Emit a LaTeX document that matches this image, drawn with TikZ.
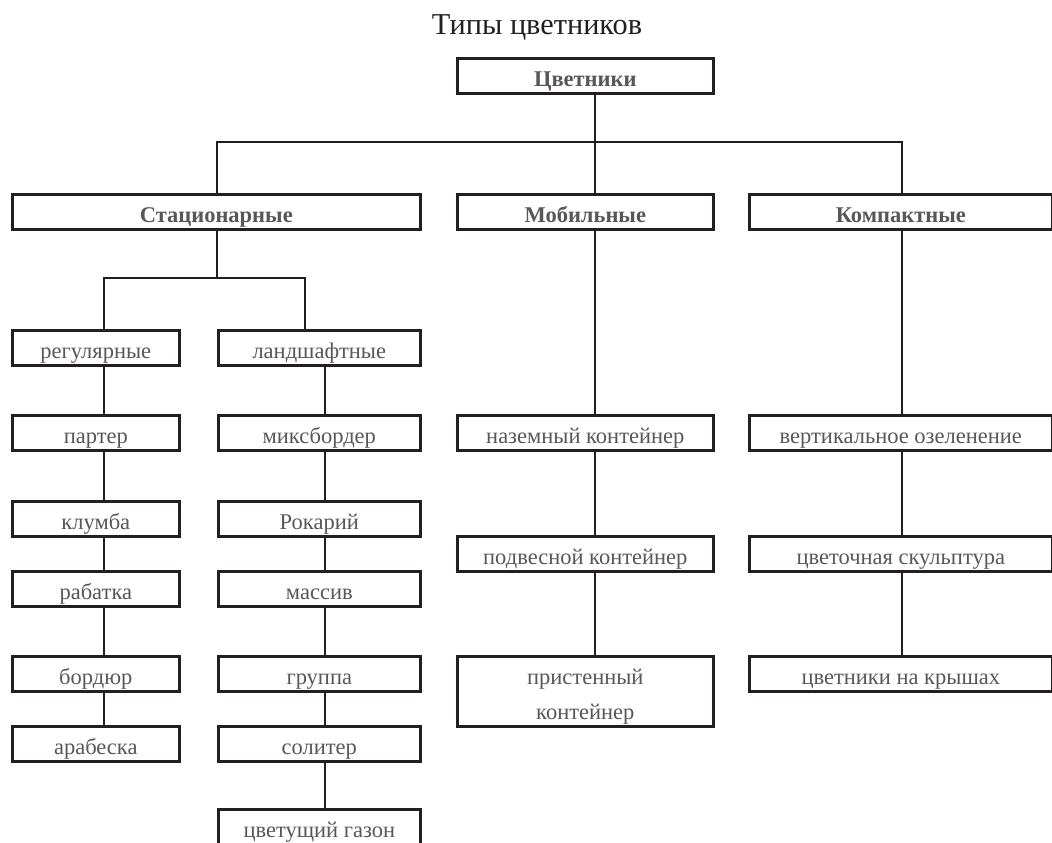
\documentclass[tikz,border=0pt]{standalone}
\usepackage{fontspec}
\setmainfont{Liberation Serif}
\definecolor{linecol}{HTML}{231F20}
\definecolor{boxtext}{HTML}{575757}
\tikzset{
  box/.style={draw=linecol, line width=2.6pt, anchor=north west, inner sep=0pt,
    minimum height=35pt, text height=22pt, text depth=0pt, text=boxtext,
    font=\fontsize{22.5}{35}\selectfont},
  head/.style={box, font=\fontsize{22.5}{35}\selectfont\bfseries},
  link/.style={draw=linecol, line width=2.6pt}
}
\begin{document}
\begin{tikzpicture}[x=1pt, y=-1pt]
        \useasboundingbox (0,0) rectangle (1052,843);

        % ==========================================
        % 1. Заголовок и корень
        % ==========================================
        \node[anchor=base, text=linecol, font=\fontsize{30.3}{32}\selectfont] (title) at (537,35) {Типы цветников};
        \node[head, minimum width=256pt] (root) at (456,57) {Цветники};

        % ==========================================
        % 2. Три группы
        % ==========================================
        \node[head, minimum width=408pt] (stat) at (11,193) {Стационарные};
        \node[head, minimum width=256pt] (mob)  at (456,193) {Мобильные};
        \node[head, minimum width=303pt] (comp) at (748,193) {Компактные};

        % ==========================================
        % 3. Стационарные: регулярные
        % ==========================================
        \node[box, minimum width=167pt] (reg)     at (11,329) {регулярные};
        \node[box, minimum width=167pt] (parter)  at (11,414) {партер};
        \node[box, minimum width=167pt] (klumba)  at (11,500) {клумба};
        \node[box, minimum width=167pt] (rabatka) at (11,570) {рабатка};
        \node[box, minimum width=167pt] (bordur)  at (11,655) {бордюр};
        \node[box, minimum width=167pt] (arab)    at (11,725) {арабеска};

        % ==========================================
        % 4. Стационарные: ландшафтные
        % ==========================================
        \node[box, minimum width=202pt] (land)    at (217,329) {ландшафтные};
        \node[box, minimum width=202pt] (mix)     at (217,414) {миксбордер};
        \node[box, minimum width=202pt] (rok)     at (217,500) {Рокарий};
        \node[box, minimum width=202pt] (massiv)  at (217,570) {массив};
        \node[box, minimum width=202pt] (gruppa)  at (217,655) {группа};
        \node[box, minimum width=202pt] (soliter) at (217,725) {солитер};
        \node[box, minimum width=202pt] (gazon)   at (217,808) {цветущий газон};

        % ==========================================
        % 5. Мобильные и компактные
        % ==========================================
        \node[box, minimum width=256pt] (nazem)  at (456,414) {наземный контейнер};
        \node[box, minimum width=256pt] (podves) at (456,535) {подвесной контейнер};
        \node[box, minimum width=256pt, minimum height=70pt, text height=57pt, align=center]
            (pristen) at (456,655) {пристенный\\контейнер};
        \node[box, minimum width=303pt] (vert)   at (748,414) {вертикальное озеленение};
        \node[box, minimum width=303pt] (skulpt) at (748,535) {цветочная скульптура};
        \node[box, minimum width=303pt] (krysha) at (748,655) {цветники на крышах};

        % ==========================================
        % 6. Соединения
        % ==========================================
        \coordinate (bar) at (595,142);
        \coordinate (subbar) at (217,278);
        \coordinate (regx) at (104,0);
        \coordinate (landin) at (305,0);
        \coordinate (landx) at (325,0);
        \coordinate (compx) at (902,0);

        \draw[link] (root.south -| bar) -- (mob.north -| bar);
        \draw[link] (stat.north -| subbar) |- (bar) -| (comp.north -| compx);
        \draw[link] (stat.south -| subbar) -- (subbar);
        \draw[link] (reg.north -| regx) |- (subbar) -| (land.north -| landin);

        \draw[link] (reg.south -| regx) -- (parter.north -| regx);
        \draw[link] (parter.south -| regx) -- (klumba.north -| regx);
        \draw[link] (klumba.south -| regx) -- (rabatka.north -| regx);
        \draw[link] (rabatka.south -| regx) -- (bordur.north -| regx);
        \draw[link] (bordur.south -| regx) -- (arab.north -| regx);

        \draw[link] (land.south -| landx) -- (mix.north -| landx);
        \draw[link] (mix.south -| landx) -- (rok.north -| landx);
        \draw[link] (rok.south -| landx) -- (massiv.north -| landx);
        \draw[link] (massiv.south -| landx) -- (gruppa.north -| landx);
        \draw[link] (gruppa.south -| landx) -- (soliter.north -| landx);
        \draw[link] (soliter.south -| landx) -- (gazon.north -| landx);

        \draw[link] (mob.south -| bar) -- (nazem.north -| bar);
        \draw[link] (nazem.south -| bar) -- (podves.north -| bar);
        \draw[link] (podves.south -| bar) -- (pristen.north -| bar);

        \draw[link] (comp.south -| compx) -- (vert.north -| compx);
        \draw[link] (vert.south -| compx) -- (skulpt.north -| compx);
        \draw[link] (skulpt.south -| compx) -- (krysha.north -| compx);

    \end{tikzpicture}
\end{document}
